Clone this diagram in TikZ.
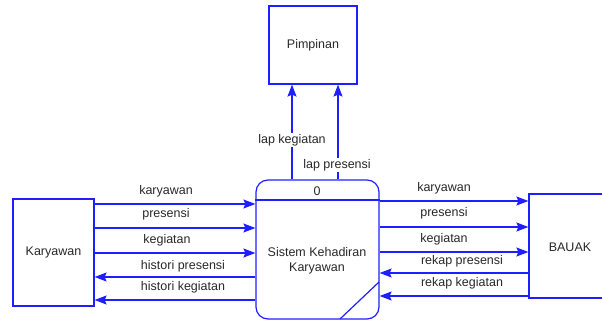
\documentclass[tikz,border=0pt]{standalone}
\usepackage{fontspec}
\setmainfont{Liberation Sans}
\usetikzlibrary{arrows.meta}
\definecolor{dfd}{RGB}{30,30,255}
\definecolor{txt}{RGB}{40,40,40}
\begin{document}
\begin{tikzpicture}[x=1pt,y=-1pt,
  box/.style={draw=dfd,line width=1.2pt,inner sep=0pt,text=txt,font=\fontsize{12.5}{14}\selectfont},
  flow/.style={draw=dfd,line width=1.2pt,-{Stealth[length=12pt,width=9pt,inset=2pt]}},
  lbl/.style={text=txt,font=\fontsize{12.5}{14}\selectfont,inner sep=0pt}]
\useasboundingbox (0,0) rectangle (602,320);
\clip (0,0) rectangle (602,320);
\node[box,minimum width=88pt,minimum height=78pt] (pim) at (313,45) {Pimpinan};
\node[box,minimum width=81pt,minimum height=107pt] (kar) at (53.5,252.5) {Karyawan};
\node[box,minimum width=82pt,minimum height=104pt] (bau) at (570,246) {};
\node[lbl] (baut) at (570,247) {BAUAK};
\node[box,minimum width=123pt,minimum height=139pt,rounded corners=12pt] (proc) at (317.5,249.5) {};
\draw[dfd,line width=1.2pt] (proc.west |- 0,200) -- (proc.east |- 0,200);
\node[lbl] (pid) at (317,191) {0};
\node[lbl,align=center] (pname) at (317,261) {Sistem Kehadiran\\[1pt]Karyawan};
\coordinate (diagA) at (379,282);
\coordinate (diagB) at (340,319);
\draw[dfd,line width=1.2pt] (diagA) -- (diagB);
% to Pimpinan
\draw[flow] (proc.north -| 292,0) -- (pim.south -| 292,0);
\draw[flow] (proc.north -| 338,0) -- (pim.south -| 338,0);
\node[lbl,fill=white,inner sep=1pt] (l1) at (292,140) {lap kegiatan};
\node[lbl,fill=white,inner sep=1pt] (l2) at (337,165) {lap presensi};
% Karyawan <-> process
\draw[flow] (kar.east |- 0,204) -- (proc.west |- 0,204);
\draw[flow] (kar.east |- 0,228) -- (proc.west |- 0,228);
\draw[flow] (kar.east |- 0,253) -- (proc.west |- 0,253);
\draw[flow] (proc.west |- 0,277) -- (kar.east |- 0,277);
\draw[flow] (proc.west |- 0,300) -- (kar.east |- 0,300);
\node[lbl] (k1) at (166,191) {karyawan};
\node[lbl] (k2) at (166,214) {presensi};
\node[lbl] (k3) at (167,240) {kegiatan};
\node[lbl] (k4) at (183,266) {histori presensi};
\node[lbl] (k5) at (183,287) {histori kegiatan};
% process <-> BAUAK
\draw[flow] (proc.east |- 0,201) -- (bau.west |- 0,201);
\draw[flow] (proc.east |- 0,227) -- (bau.west |- 0,227);
\draw[flow] (proc.east |- 0,252) -- (bau.west |- 0,252);
\draw[flow] (bau.west |- 0,273) -- (proc.east |- 0,273);
\draw[flow] (bau.west |- 0,296) -- (proc.east |- 0,296);
\node[lbl] (b1) at (444,188) {karyawan};
\node[lbl] (b2) at (444,213) {presensi};
\node[lbl] (b3) at (444,239) {kegiatan};
\node[lbl] (b4) at (462,261) {rekap presensi};
\node[lbl] (b5) at (462,283) {rekap kegiatan};
\end{tikzpicture}
\end{document}
